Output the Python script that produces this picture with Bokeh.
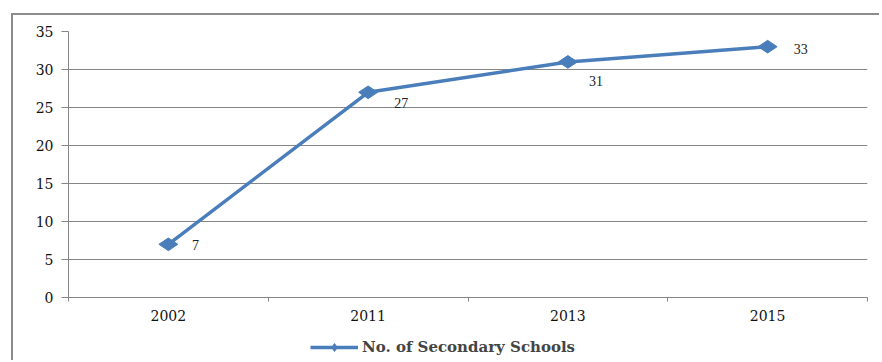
from bokeh.plotting import figure
from bokeh.models import (Range1d, FixedTicker, ColumnDataSource, LabelSet,
                          Legend, LegendItem)
from bokeh.layouts import column
from bokeh.embed import file_html
from bokeh.resources import INLINE
import math

# ---- data ----
years = ["2002", "2011", "2013", "2015"]
schools = [7, 27, 31, 33]
y_ticks = [0, 5, 10, 15, 20, 25, 30, 35]
series_name = "No. of Secondary Schools"

# ---- styles ----
label_dx = [27, 33, 28, 33]
label_dy = [-1, -11, -19, -2]
BLUE = "#4a7ebb"
GRID = "#868686"
SERIF = "DejaVu Serif"

xs = [i + 0.5 for i in range(len(years))]
src = ColumnDataSource(dict(x=xs, y=schools, txt=[str(v) for v in schools],
                            dx=label_dx, dy=label_dy))

p = figure(width=866, height=315, output_backend="svg", toolbar_location=None,
           x_range=Range1d(0, len(years)), y_range=Range1d(0, 35),
           min_border_left=55, min_border_top=16, min_border_right=12,
           min_border_bottom=33)
p.outline_line_color = None
p.background_fill_color = "white"

line_kw = dict(line_color=BLUE, line_width=3.5)
mark_kw = dict(marker="diamond", size=19, angle=math.pi / 2,
               fill_color=BLUE, line_color=BLUE)
p.line("x", "y", source=src, **line_kw)
p.scatter("x", "y", source=src, **mark_kw)

labels = LabelSet(x="x", y="y", text="txt", source=src, x_offset="dx", y_offset="dy",
                  text_align="center", text_baseline="middle",
                  text_font="DejaVu Sans", text_font_size="14px", text_color="#222222")
p.add_layout(labels)

# y axis
p.yaxis.ticker = FixedTicker(ticks=y_ticks)
p.yaxis.axis_line_color = GRID
p.yaxis.major_tick_line_color = GRID
p.yaxis.major_tick_out = 7
p.yaxis.major_tick_in = 0
p.yaxis.minor_tick_line_color = None
p.yaxis.major_label_text_font = SERIF
p.yaxis.major_label_text_font_size = "14px"
p.yaxis.major_label_text_color = "#111111"
p.yaxis.major_label_standoff = 8

# x axis: labels at centers, ticks at category boundaries
p.xaxis.ticker = FixedTicker(ticks=xs, minor_ticks=list(range(len(years) + 1)))
p.xaxis.major_label_overrides = {x: y for x, y in zip(xs, years)}
p.xaxis.major_tick_line_color = None
p.xaxis.minor_tick_line_color = GRID
p.xaxis.minor_tick_out = 4
p.xaxis.minor_tick_in = 0
p.xaxis.axis_line_color = GRID
p.xaxis.major_label_text_font = SERIF
p.xaxis.major_label_text_font_size = "14px"
p.xaxis.major_label_text_color = "#111111"
p.xaxis.major_label_standoff = 6

p.xgrid.grid_line_color = None
p.ygrid.grid_line_color = GRID
p.ygrid.ticker = FixedTicker(ticks=y_ticks)

# legend strip below the chart (its sample glyphs reuse the series' first point, kept off-view)
q = figure(width=866, height=30, output_backend="svg", toolbar_location=None,
           x_range=Range1d(100, 101), y_range=Range1d(100, 101),
           x_axis_type=None, y_axis_type=None, min_border=0)
q.outline_line_color = None
q.xgrid.grid_line_color = None
q.ygrid.grid_line_color = None
lr = q.line("x", "y", source=src, **line_kw)
mr = q.scatter("x", "y", source=src, **mark_kw)
legend = Legend(items=[LegendItem(label=series_name, renderers=[lr, mr], index=0)],
                orientation="horizontal", location=(242, 3),
                glyph_width=48, glyph_height=20, label_text_font=SERIF,
                label_text_font_style="bold", label_text_font_size="15px",
                border_line_color=None, background_fill_alpha=0,
                padding=0, margin=0, label_standoff=4)
q.add_layout(legend)

layout = column(p, q, spacing=0,
                styles={"border-top": "2px solid #8c8c8c",
                        "border-left": "2px solid #8c8c8c",
                        "margin-left": "11px", "margin-top": "13px"})

open("out.html", "w").write(file_html(layout, INLINE))
